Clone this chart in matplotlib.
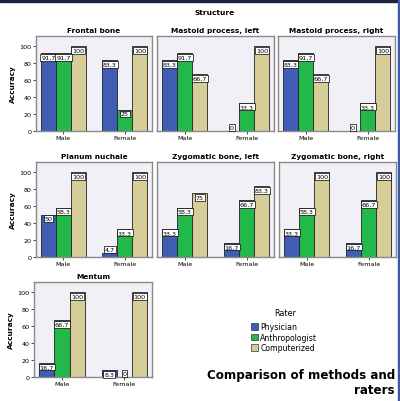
import matplotlib
matplotlib.use("Agg")
import matplotlib.pyplot as plt
from matplotlib.patches import Rectangle, Patch
import numpy as np

structures = ["Frontal bone", "Mastoid process, left", "Mastoid process, right",
              "Planum nuchale", "Zygomatic bone, left", "Zygomatic bone, right",
              "Mentum"]
sexes = ["Male", "Female"]
raters = ["Physician", "Anthropologist", "Computerized"]

physician = [[91.7, 83.3], [83.3, 0], [83.3, 0], [50, 4.7], [33.3, 16.7], [33.3, 16.7], [16.7, 8.3]]
anthropologist = [[91.7, 25], [91.7, 33.3], [91.7, 33.3], [58.3, 33.3], [58.3, 66.7], [58.3, 66.7], [66.7, 0]]
computerized = [[100, 100], [66.7, 100], [66.7, 100], [100, 100], [75, 83.3], [100, 100], [100, 100]]

colors = ["#3F5DB4", "#22B84A", "#D6CD98"]
bg = "#F1F0F6"

fig = plt.figure(figsize=(4.0, 4.02), dpi=100)
W, H = 400, 402

def ax_rect(x0, x1, ytop, ybot):
    return [x0 / W, 1 - ybot / H, (x1 - x0) / W, (ybot - ytop) / H]

rects = [
    ax_rect(36, 152, 37, 132), ax_rect(157, 274, 37, 132), ax_rect(278, 395, 37, 132),
    ax_rect(36, 152, 163, 258), ax_rect(157, 274, 163, 258), ax_rect(279, 396, 163, 258),
    ax_rect(34, 152, 283, 378),
]

def fmt(v):
    if abs(v - round(v)) < 1e-9:
        return "%d" % round(v)
    return ("%.1f" % v).replace(".", ",")

series = [physician, anthropologist, computerized]
bw = 0.244
for i, name in enumerate(structures):
    ax = fig.add_axes(rects[i])
    ax.set_facecolor(bg)
    x = np.arange(len(sexes))
    for r in range(3):
        vals = [series[r][i][k] for k in range(2)]
        xs = x + (r - 1) * bw
        ax.bar(xs, vals, width=bw, color=colors[r], edgecolor="#222222", linewidth=0.6)
        for xv, v in zip(xs, vals):
            if v < 8:
                ax.text(xv, v + 1.5, fmt(v), ha="center", va="bottom", fontsize=4.6,
                        bbox=dict(boxstyle="square,pad=0.15", fc="white", ec="black", lw=0.5))
            else:
                ax.text(xv, v - 2, fmt(v), ha="center", va="top", fontsize=4.6,
                        bbox=dict(boxstyle="square,pad=0.15", fc="white", ec="black", lw=0.5))
    ax.set_xlim(-0.447, 1.44)
    ax.set_ylim(0, 112)
    ax.set_xticks(x)
    ax.set_xticklabels(sexes, fontsize=4.6)
    if i in (0, 3, 6):
        ax.set_yticks([0, 20, 40, 60, 80, 100])
        ax.set_yticklabels(["0", "20", "40", "60", "80", "100"], fontsize=4.6)
        ax.set_ylabel("Accuracy", fontsize=5.3, fontweight="bold", labelpad=3)
    else:
        ax.set_yticks([])
    ax.tick_params(axis="both", length=2, width=0.5, pad=1)
    for s in ax.spines.values():
        s.set_color("#8A8A8A")
        s.set_linewidth(1.0)
    ax.set_title(name, fontsize=5.3, fontweight="bold", pad=3)

fig.text(215 / W, 1 - 13 / H, "Structure", ha="center", va="center", fontsize=5.3, fontweight="bold")

# legend
fig.text(285 / W, 1 - 314 / H, "Rater", ha="center", va="center", fontsize=5.8)
handles = [Patch(facecolor=c, edgecolor="#333333", lw=0.5) for c in colors]
fig.legend(handles, raters, loc="upper left", bbox_to_anchor=(251 / W, 1 - 323 / H),
           frameon=False, fontsize=5.6, handlelength=0.9, handleheight=0.9,
           handletextpad=0.3, labelspacing=0.2, borderpad=0, borderaxespad=0)

fig.text(395 / W, 1 - 376 / H, "Comparison of methods and", ha="right", va="center",
         fontsize=8.6, fontweight="bold", family="DejaVu Sans")
fig.text(395 / W, 1 - 391 / H, "raters", ha="right", va="center",
         fontsize=8.6, fontweight="bold", family="DejaVu Sans")

# dark frame strip at top and right
fig.patches.append(Rectangle((0, 1 - 3 / H), 1, 3 / H, transform=fig.transFigure,
                             color="#1C2340", zorder=10))
fig.patches.append(Rectangle((1 - 2 / W, 0), 2 / W, 1, transform=fig.transFigure,
                             color="#3A5AA8", zorder=10))

fig.savefig("out.png", dpi=100, facecolor="white")
